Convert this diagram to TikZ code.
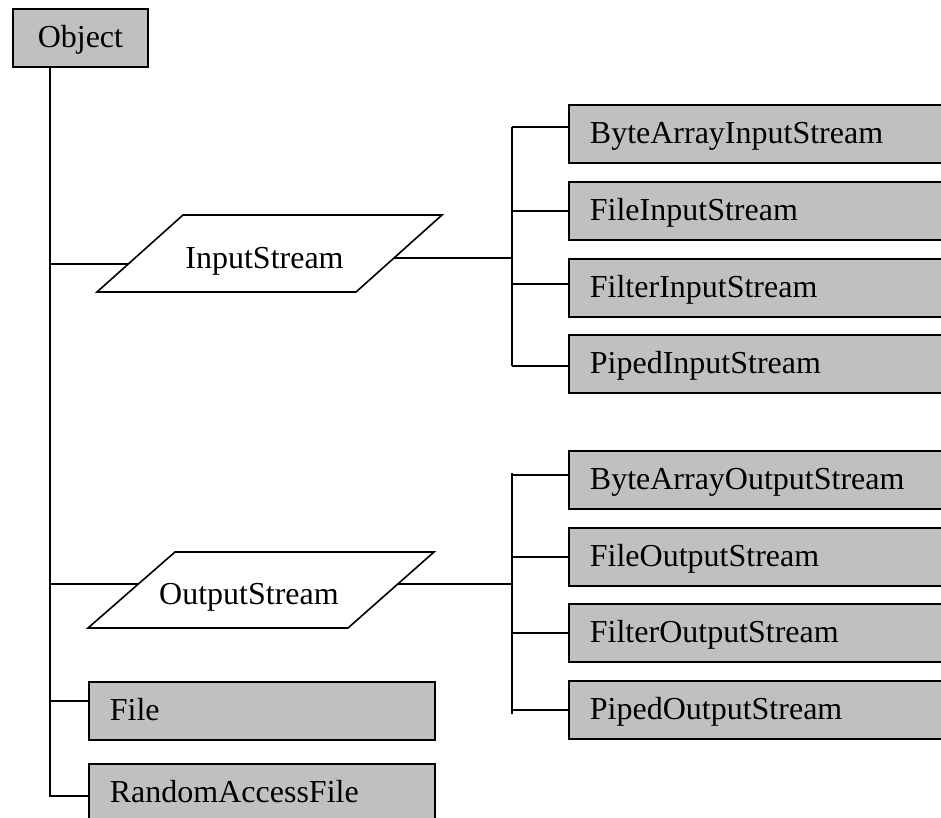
\documentclass[tikz,border=0pt]{standalone}
\usepackage{fontspec}
\setmainfont{Liberation Serif}
\usetikzlibrary{calc}
\definecolor{boxgray}{RGB}{192,192,192}
\begin{document}
\begin{tikzpicture}[x=1pt,y=-1pt,
  conn/.style={draw=black, line width=1.6pt},
  gbox/.style={draw=black, line width=1.8pt, fill=boxgray, anchor=north west,
    minimum height=58pt, inner ysep=0pt, text height=26pt, text depth=6pt,
    font=\fontsize{32}{38}\selectfont},
  rbox/.style={gbox, inner xsep=21pt, text width=358pt, align=left},
  fbox/.style={gbox, inner xsep=21pt, text width=304pt, align=left},
  ptext/.style={anchor=base, inner sep=0pt, font=\fontsize{32}{38}\selectfont}]
\clip (0,0) rectangle (941,818);

% root
\node[gbox, minimum width=135pt, inner xsep=0pt, align=center] (obj) at (12,8) {Object};

% input stream children
\node[rbox] (bi1) at (568,104) {ByteArrayInputStream};
\node[rbox] (fi)  at (568,181) {FileInputStream};
\node[rbox] (fli) at (568,258) {FilterInputStream};
\node[rbox] (pi)  at (568,334) {PipedInputStream};

% output stream children
\node[rbox] (bo)  at (568,450) {ByteArrayOutputStream};
\node[rbox] (fo)  at (568,527) {FileOutputStream};
\node[rbox] (flo) at (568,603) {FilterOutputStream};
\node[rbox] (po)  at (568,680) {PipedOutputStream};

% other children
\node[fbox] (file) at (88,681) {File};
\node[fbox] (raf)  at (88,763) {RandomAccessFile};

% InputStream parallelogram
\coordinate (isTL) at (183,215);
\coordinate (isTR) at (442,215);
\coordinate (isBR) at (356,292);
\coordinate (isBL) at (97,292);
\draw[conn, line join=miter] (isTL) -- (isTR) -- (isBR) -- (isBL) -- cycle;
\node[ptext] (is) at (264.5,268) {InputStream};

% OutputStream parallelogram
\coordinate (osTL) at (175,552);
\coordinate (osTR) at (434,552);
\coordinate (osBR) at (348,628);
\coordinate (osBL) at (88,628);
\draw[conn, line join=miter] (osTL) -- (osTR) -- (osBR) -- (osBL) -- cycle;
\node[ptext] (os) at (249,604) {OutputStream};

% trunk
\coordinate (tk) at (50,0);
\coordinate (cfile) at ([yshift=10pt]file.west);
\coordinate (craf) at ([yshift=-3pt]raf.west);
\draw[conn] (tk |- obj.south) -- (tk |- craf) -- (craf);
\draw[conn] (tk |- cfile) -- (cfile);

\coordinate (isL) at ($(isBL)!0.364!(isTL)$);
\coordinate (isR) at ($(isBR)!0.44!(isTR)$);
\coordinate (osL) at ($(osBL)!0.58!(osTL)$);
\coordinate (osR) at ($(osBR)!0.58!(osTR)$);
\draw[conn] (tk |- isL) -- (isL);
\draw[conn] (tk |- osL) -- (osL);

% input bracket
\coordinate (br) at (512,0);
\coordinate (c1) at ([yshift=7pt]bi1.west);
\coordinate (c2) at (fi.west);
\coordinate (c3) at ([yshift=4pt]fli.west);
\coordinate (c4) at ([yshift=-2pt]pi.west);
\draw[conn] (isR) -- (br |- isR);
\draw[conn] (br |- c1) -- (br |- c4);
\foreach \c in {c1,c2,c3,c4} \draw[conn] (br |- \c) -- (\c);

% output bracket
\coordinate (d1) at ([yshift=5pt]bo.west);
\coordinate (d2) at (fo.west);
\coordinate (d3) at (flo.west);
\coordinate (d4) at (po.west);
\draw[conn] (osR) -- (br |- osR);
\draw[conn] ($(br |- d1)+(0,-2)$) -- ($(br |- d4)+(0,4)$);
\foreach \c in {d1,d2,d3,d4} \draw[conn] (br |- \c) -- (\c);
\end{tikzpicture}
\end{document}
